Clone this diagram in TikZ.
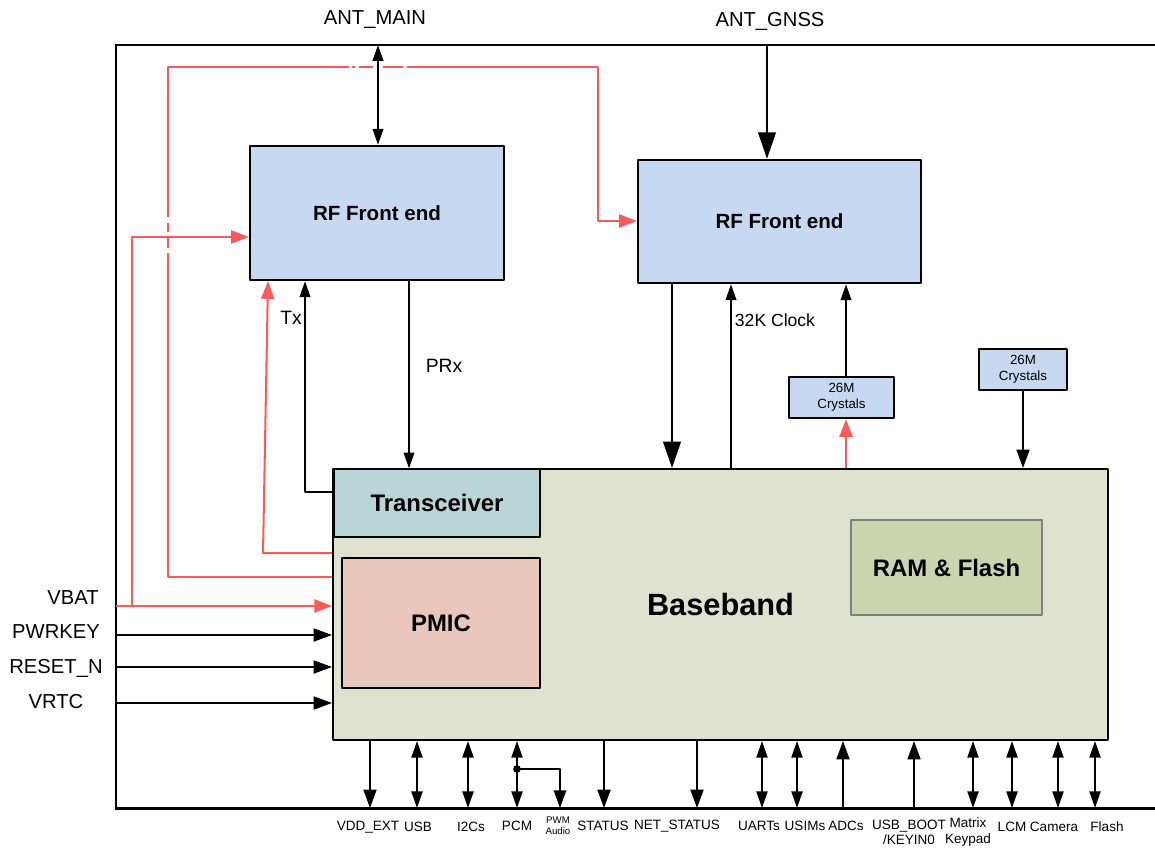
\documentclass[tikz,border=0pt]{standalone}
\usepackage{fontspec}
\setmainfont{Liberation Sans}
\usetikzlibrary{arrows.meta}

\definecolor{pwr}{RGB}{252,90,90}
\definecolor{rfblue}{RGB}{198,217,241}
\definecolor{bbgreen}{RGB}{222,226,206}
\definecolor{trxcyan}{RGB}{186,213,214}
\definecolor{pmicpink}{RGB}{233,198,188}
\definecolor{memgreen}{RGB}{204,211,175}

\tikzset{
  blk/.style={draw, line width=1.4pt, inner sep=0pt, align=center},
  wire/.style={line width=1.15pt},
  pwrwire/.style={line width=1.15pt, draw=pwr},
  arr/.style={wire, -{Triangle[length=9pt,width=6pt]}},
  dblarr/.style={wire, {Triangle[length=9.5pt,width=6.3pt]}-{Triangle[length=9.5pt,width=6.3pt]}},
  dnarr/.style={wire, -{Triangle[length=10.5pt,width=7.4pt]}},
  bigarr/.style={line width=1.3pt, -{Triangle[length=15pt,width=10pt]}},
  pwrarr/.style={pwrwire, -{Triangle[length=10pt,width=7.4pt]}},
  lbl/.style={inner sep=0pt, font=\fontsize{11.5}{13}\selectfont},
  pin/.style={inner sep=0pt, font=\fontsize{7.7}{8.6}\selectfont, align=center},
}

\begin{document}
\begin{tikzpicture}[x=0.02cm, y=-0.02cm, line join=round]
  \useasboundingbox (0,0) rectangle (1155,849);

  % module frame
  \coordinate (ftl) at (116,45);
  \coordinate (fbl) at (116,808);
  \draw[line width=1.7pt, line join=miter] (1155,45) -- (ftl) -- (fbl) -- (1155,808);

  % blocks
  \node[blk, line width=1.2pt, fill=bbgreen, minimum width=15.5cm, minimum height=5.42cm,
        font=\bfseries\fontsize{17.5}{20}\selectfont] (bb) at (720.5,604.5) {Baseband};
  \node[blk, line width=0.8pt, fill=trxcyan, minimum width=4.12cm, minimum height=1.36cm,
        font=\bfseries\fontsize{13.6}{16}\selectfont] (trx) at (437,503) {Transceiver};
  \node[blk, line width=0.8pt, fill=pmicpink, minimum width=3.96cm, minimum height=2.6cm,
        font=\bfseries\fontsize{13.6}{16}\selectfont] (pmic) at (441,623) {PMIC};
  \node[blk, line width=0.8pt, draw=gray, fill=memgreen, minimum width=3.82cm, minimum height=1.9cm,
        font=\bfseries\fontsize{13.6}{16}\selectfont] (mem) at (946.5,567.5) {RAM \& Flash};
  \node[blk, fill=rfblue, minimum width=5.08cm, minimum height=2.68cm,
        font=\bfseries\fontsize{11.7}{14}\selectfont] (rfm) at (377,213) {RF Front end};
  \node[blk, fill=rfblue, minimum width=5.66cm, minimum height=2.46cm,
        font=\bfseries\fontsize{11.7}{14}\selectfont] (rfg) at (779.5,221.5) {RF Front end};
  \node[blk, fill=rfblue, minimum width=2.1cm, minimum height=0.82cm,
        font=\fontsize{7.6}{9}\selectfont] (xtg) at (841.5,397.5) {26M\\Crystals};
  \node[blk, fill=rfblue, minimum width=1.76cm, minimum height=0.82cm,
        font=\fontsize{7.6}{9}\selectfont] (xtb) at (1023,369.5) {26M\\Crystals};

  % labels
  \node[lbl] (antm) at (375,20) {ANT\_MAIN};
  \node[lbl] (antg) at (770,21) {ANT\_GNSS};
  \node[lbl, font=\fontsize{11}{13}\selectfont] (tx) at (291,318) {Tx};
  \node[lbl, font=\fontsize{11}{13}\selectfont] (prx) at (444,366) {PRx};
  \node[lbl, font=\fontsize{10}{12}\selectfont] (clk) at (775,320) {32K Clock};
  \node[lbl] (vbat) at (73,598) {VBAT};
  \node[lbl] (pwrkey) at (56,632) {PWRKEY};
  \node[lbl] (rstn) at (56,668) {RESET\_N};
  \node[lbl] (vrtc) at (56,702) {VRTC};

  % antennas and RF paths
  \draw[wire, {Triangle[length=9pt,width=6pt]}-{Triangle[length=9pt,width=6pt]}] (ftl -| 378,0) -- (rfm.north -| 378,0);
  \draw[bigarr] (ftl -| 767,0) -- (rfg.north -| 767,0);
  \draw[arr] (rfm.south -| 409,0) -- (trx.north -| 409,0);
  \draw[arr] (trx.west |- 0,492) -- (305,492) -- (rfm.south -| 305,0);
  \draw[bigarr] (rfg.south -| 672,0) -- (bb.north -| 672,0);
  \draw[arr] (bb.north -| 731,0) -- (rfg.south -| 731,0);
  \draw[arr] (xtg.north -| 846,0) -- (rfg.south -| 846,0);
  \draw[dnarr] (xtb.south) -- (bb.north -| xtb.south);

  % power (red)
  \draw[pwrarr] (bb.west |- 0,553) -- (263,553) -- (rfm.south -| 268,0);
  \draw[pwrwire] (bb.west |- 0,577) -- (168,577) -- (168,253);
  \draw[pwrwire] (168,248) -- (168,236) (168,232) -- (168,223);
  \draw[pwrwire] (168,217) -- (168,67) -- (349,67);
  \draw[pwrwire] (352,67) -- (355,67) (359,67) -- (373,67) (383,67) -- (403,67);
  \draw[pwrarr] (407,67) -- (598,67) -- (598,221) -- (rfg.west |- 0,221);
  \draw[pwrarr] (fbl |- 0,606) -- (bb.west |- 0,606);
  \draw[pwrarr] (132,606) -- (132,237) -- (rfm.west |- 0,237);
  \draw[pwrarr] (bb.north -| 846,0) -- (xtg.south -| 846,0);

  % control inputs
  \draw[dnarr] (fbl |- 0,635) -- (bb.west |- 0,635);
  \draw[dnarr] (fbl |- 0,667) -- (bb.west |- 0,667);
  \draw[dnarr] (fbl |- 0,703) -- (bb.west |- 0,703);

  % interfaces
  \node[pin] (vddext) at (368,827) {VDD\_EXT};
  \node[pin] (usb) at (418,827) {USB};
  \node[pin] (i2c) at (471,827) {I2Cs};
  \node[pin] (pcm) at (517,826) {PCM};
  \node[pin, font=\fontsize{5.5}{6.3}\selectfont] (pwm) at (558,826) {PWM\\Audio};
  \node[pin] (status) at (603,826) {STATUS};
  \node[pin] (netstatus) at (677,826) {NET\_STATUS};
  \node[pin] (uart) at (759,826) {UARTs};
  \node[pin] (usim) at (805,826) {USIMs};
  \node[pin] (adc) at (846,826) {ADCs};
  \node[pin] (usbboot) at (909,832) {USB\_BOOT\\/KEYIN0};
  \node[pin] (keypad) at (968,832) {Matrix\\Keypad};
  \node[pin] (lcm) at (1012,827) {LCM};
  \node[pin] (camera) at (1054,827) {Camera};
  \node[pin] (flash) at (1107,827) {Flash};

  \draw[dnarr] (bb.south -| 370,0) -- (fbl -| 370,0);
  \draw[dblarr] (bb.south -| 417,0) -- (fbl -| 417,0);
  \draw[dblarr] (bb.south -| 468,0) -- (fbl -| 468,0);
  \draw[dblarr] (bb.south -| 517,0) -- (fbl -| 517,0);
  \fill (517,769) circle (2.2pt);
  \draw[line width=0.8pt, -{Triangle[length=10pt,width=7pt]}] (517,769) -- (560,769) -- (fbl -| 560,0);
  \draw[dnarr] (bb.south -| 604,0) -- (fbl -| 604,0);
  \draw[dnarr] (bb.south -| 697,0) -- (fbl -| 697,0);
  \draw[dblarr] (bb.south -| 762,0) -- (fbl -| 762,0);
  \draw[dblarr] (bb.south -| 797,0) -- (fbl -| 797,0);
  \draw[dnarr] (fbl -| 843,0) -- (bb.south -| 843,0);
  \draw[dnarr] (fbl -| 914,0) -- (bb.south -| 914,0);
  \draw[dblarr] (bb.south -| 973,0) -- (fbl -| 973,0);
  \draw[dblarr] (bb.south -| 1012,0) -- (fbl -| 1012,0);
  \draw[dblarr] (bb.south -| 1058,0) -- (fbl -| 1058,0);
  \draw[dblarr] (bb.south -| 1095,0) -- (fbl -| 1095,0);
\end{tikzpicture}
\end{document}
